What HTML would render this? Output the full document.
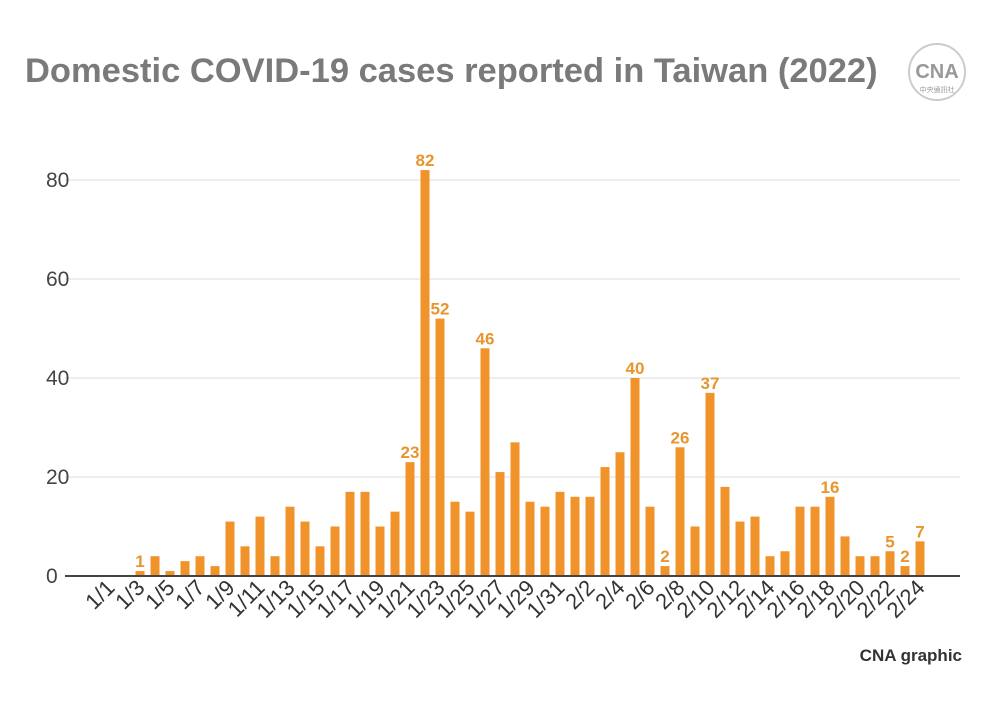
<!DOCTYPE html>
<html><head><meta charset="utf-8"><style>
body{margin:0;background:#fff;width:1003px;height:696px;overflow:hidden;font-family:"Liberation Sans","Noto Sans CJK TC",sans-serif}
</style></head><body>
<svg id="chart" width="1003" height="696">
<text x="25" y="82" font-size="34.5" font-weight="bold" fill="#7a7a7a">Domestic COVID-19 cases reported in Taiwan (2022)</text>
<g>
<circle cx="937" cy="72" r="28" fill="#fff" stroke="#ccc" stroke-width="2"/>
<text x="937" y="78" font-size="20" font-weight="bold" fill="#999" text-anchor="middle">CNA</text>
<text x="937" y="92" font-size="7" fill="#999" text-anchor="middle">中央通訊社</text>
</g>
<text x="962" y="661" font-size="17" font-weight="bold" fill="#333" text-anchor="end">CNA graphic</text>
<g id="grid"></g><g id="bars"></g><g id="xl"></g>
</svg>
<script>
const categories=[];
for(let d=1;d<=31;d++)categories.push('1/'+d);
for(let d=1;d<=24;d++)categories.push('2/'+d);
const cases=[0,0,1,4,1,3,4,2,11,6,12,4,14,11,6,10,17,17,10,13,23,82,52,15,13,46,21,27,15,14,17,16,16,22,25,40,14,2,26,10,37,18,11,12,4,5,14,14,16,8,4,4,5,2,7];
const labeledDays=['1/3','1/21','1/22','1/23','1/26','2/5','2/7','2/8','2/10','2/18','2/22','2/23','2/24'];
const yTicks=[0,20,40,60,80];
const NS='http://www.w3.org/2000/svg';
const x0=110,dx=15,yBase=576,yScale=396/80;
const xp=i=>x0+i*dx, yp=v=>yBase-v*yScale;
function mk(t,a,p){const e=document.createElementNS(NS,t);for(const k in a)e.setAttribute(k,a[k]);p.appendChild(e);return e;}
const grid=document.getElementById('grid'),bars=document.getElementById('bars'),xl=document.getElementById('xl');
yTicks.forEach(v=>{
 if(v>0){const l=mk('line',{x1:65,x2:960,y1:yp(v),y2:yp(v),stroke:'#dcdcdc','stroke-width':1},grid);
 
 }
 const t=mk('text',{x:46,y:yp(v)+7,'font-size':21,fill:'#444'},grid);t.textContent=v;
 
 
});
cases.forEach((v,i)=>{
 if(v>0){const r=mk('rect',{x:xp(i)-4.5,y:yp(v),width:9,height:v*yScale,fill:'#f0932b'},bars);
 
 }
 if(labeledDays.includes(categories[i])){
  const t=mk('text',{x:xp(i),y:yp(v)-4,'font-size':17,'font-weight':'bold',fill:'#e8952e','text-anchor':'middle'},bars);t.textContent=v;
  
  
 }
 if(i%2===0){
  const t=mk('text',{x:0,y:0,'font-size':22,fill:'#333','text-anchor':'end',transform:`translate(${xp(i)+6},${yBase+13}) rotate(-45)`},xl);t.textContent=categories[i];
  
  
 }
});
const ax=mk('line',{x1:65,x2:960,y1:yBase,y2:yBase,stroke:'#444','stroke-width':2},bars);


</script>
</body></html>
